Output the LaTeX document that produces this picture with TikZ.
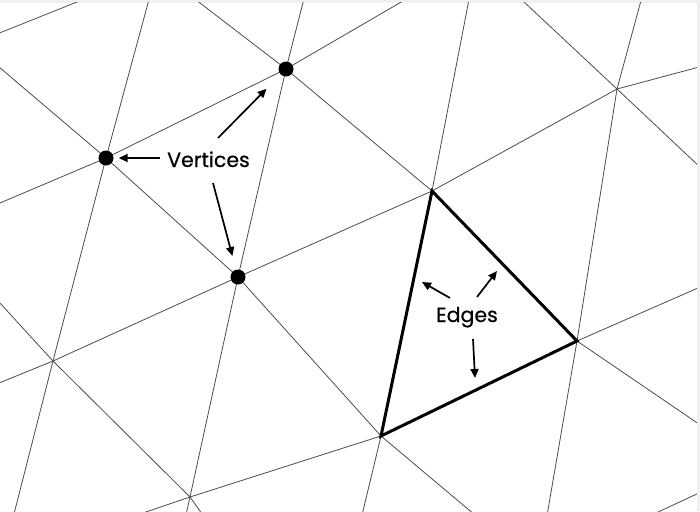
\documentclass[tikz,border=0pt]{standalone}
\usepackage{fontspec}
\setmainfont{Poppins}
\newfontfamily\tagfont{Poppins}[FakeBold=0.5]
\usetikzlibrary{arrows.meta}

\tikzset{
  mesh/.style={black!70, line width=0.8pt},
  face/.style={line width=3pt, line join=miter},
  vdot/.style={circle, fill=black, minimum size=15pt, inner sep=0pt},
  pointer/.style={line width=1.7pt, -{Triangle[length=9pt,width=8pt]}},
  tag/.style={font=\tagfont\fontsize{20.5}{20.5}\selectfont, inner sep=0pt, anchor=base}
}

\begin{document}
\begin{tikzpicture}[x=1pt, y=-1pt]
    % Frame
    \useasboundingbox (0,0) rectangle (700,511);
    \fill[black!6] (0,0) rectangle (700,3);
    \fill[black!6] (697,0) rectangle (700,511);

    % Mesh points, rows A to E
    \coordinate (A0) at (-28,44);
    \coordinate (A1) at (157,-30);
    \coordinate (A2) at (319,-60);
    \coordinate (B0) at (-66,231);
    \coordinate (B1) at (106,158);
    \coordinate (B2) at (286,69);
    \coordinate (B3) at (477,-42);
    \coordinate (B4) at (652,-40);
    \coordinate (C0) at (-116,430);
    \coordinate (C1) at (53,361);
    \coordinate (C2) at (238,277);
    \coordinate (C3) at (432,191);
    \coordinate (C4) at (617,89);
    \coordinate (C5) at (800,40);
    \coordinate (D1) at (2,561);
    \coordinate (D2) at (190,497);
    \coordinate (D3) at (381,436);
    \coordinate (D4) at (577,341);
    \coordinate (D5) at (787,249);
    \coordinate (E2) at (176,560);
    \coordinate (E3) at (322,682);
    \coordinate (E4) at (538,568);
    \coordinate (E5) at (759,465);

    % Thin mesh
    \begin{scope}
        \clip (0,3) rectangle (697,511);
        \foreach \u/\v in {A0/A1, A1/A2, B0/B1, B1/B2, B2/B3, B3/B4,
                C0/C1, C1/C2, C2/C3, C3/C4, C4/C5, D1/D2, D2/D3, D3/D4, D4/D5,
                E2/E3, E3/E4, E4/E5,
                A0/B0, A1/B1, A2/B2, B0/C0, B1/C1, B2/C2, B3/C3, B4/C4,
                C1/D1, C2/D2, C3/D3, C4/D4, C5/D5, D2/E2, D3/E3, D4/E4, D5/E5,
                A0/B1, A1/B2, A2/B3, B0/C1, B1/C2, B2/C3, B3/C4, B4/C5,
                C0/D1, C1/D2, C2/D3, C3/D4, C4/D5, D1/E2, D2/E3, D3/E4, D4/E5}
            \draw[mesh] (\u) -- (\v);
    \end{scope}

    % Highlighted face
    \draw[face] (C3) -- (D4) -- (D3) -- cycle;

    % Vertices
    \node[vdot] (v1) at (B2) {};
    \node[vdot] (v2) at (B1) {};
    \node[vdot] (v3) at (C2) {};

    % Labels
    \node[tag] (vlab) at (208.5,167) {Vertices};
    \node[tag] (elab) at (467,322) {Edges};

    % Arrows to the vertices
    \coordinate (vt1) at (160,158);
    \coordinate (vt2) at (218,138);
    \coordinate (vt3) at (213,183);
    \draw[pointer, shorten >=5pt] (vt1) -- (v2);
    \draw[pointer, shorten >=20pt] (vt2) -- (v1);
    \draw[pointer, shorten >=14pt] (vt3) -- (v3);

    % Arrows to the edges
    \coordinate (et1) at (450,298);
    \coordinate (eh1) at (422,282);
    \coordinate (et2) at (477,297);
    \coordinate (eh2) at (497,271);
    \coordinate (et3) at (473,339);
    \coordinate (eh3) at (475,378);
    \draw[pointer] (et1) -- (eh1);
    \draw[pointer] (et2) -- (eh2);
    \draw[pointer] (et3) -- (eh3);
\end{tikzpicture}
\end{document}
